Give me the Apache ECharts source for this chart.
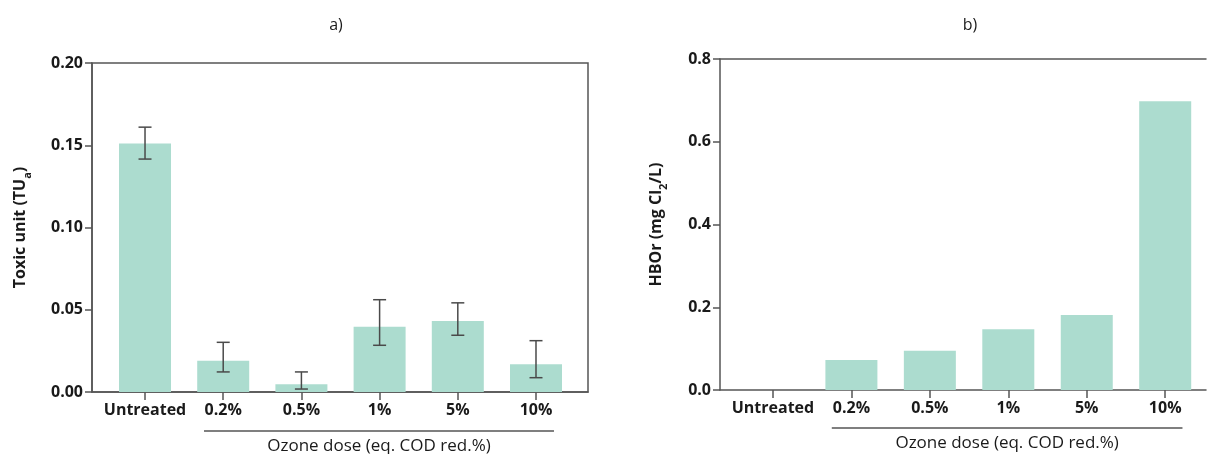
<!DOCTYPE html>
<html>
<head>
<meta charset="utf-8">
<script src="https://cdn.jsdelivr.net/npm/echarts@6/dist/echarts.min.js"></script>
<style>
  html, body { margin: 0; padding: 0; background: #fff; }
  #chart { width: 1208px; height: 454px; }
</style>
</head>
<body>
<div id="chart"></div>
<script>
// data
var doses = ['Untreated', '0.2%', '0.5%', '1%', '5%', '10%'];
var toxicUnit = [0.151, 0.019, 0.0047, 0.0397, 0.0432, 0.0168];
var toxicLow  = [0.1416, 0.0122, 0.0018, 0.0284, 0.0345, 0.0087];
var toxicHigh = [0.161, 0.0302, 0.0122, 0.0561, 0.0542, 0.0312];
var hbor = [0, 0.0725, 0.095, 0.147, 0.181, 0.698];
var idx = [0, 1, 2, 3, 4, 5];

var barColor = '#acdccf';
var axisColor = '#555';
var txt = '#1a1a1a';
var font = 'Open Sans';

function pairs(vals) {
    return vals.map(function (v, i) { return [i, v]; });
}

function xAxisCfg(grid, min, max) {
    return {
        type: 'value', gridIndex: grid, min: min, max: max,
        splitLine: { show: false },
        axisLine: { lineStyle: { color: axisColor, width: 1.5 } },
        axisTick: { show: true, customValues: idx, length: 8, lineStyle: { color: axisColor, width: 1.5 } },
        axisLabel: {
            customValues: idx, margin: 10,
            color: txt, fontFamily: font, fontWeight: 'bold', fontSize: 16,
            formatter: function (v) { return doses[Math.round(v)]; }
        }
    };
}

function yAxisCfg(grid, max, step, digits, name, gap) {
    return {
        type: 'value', gridIndex: grid, min: 0, max: max, interval: step,
        name: name, nameLocation: 'middle', nameGap: gap, nameRotate: 90,
        nameTextStyle: {
            rich: {
                n: { fontFamily: font, fontWeight: 'bold', fontSize: 16, color: txt, lineHeight: 19 },
                s: { fontFamily: font, fontWeight: 'bold', fontSize: 11, color: txt, lineHeight: 11, verticalAlign: 'bottom', padding: [0, 0, -3, 0] }
            }
        },
        splitLine: { show: false },
        axisLine: { show: true, onZero: false, lineStyle: { color: axisColor, width: 1.5 } },
        axisTick: { show: true, length: 7, lineStyle: { color: axisColor, width: 1.5 } },
        axisLabel: {
            margin: 9, color: txt, fontFamily: font, fontWeight: 'bold', fontSize: 16,
            formatter: function (v) { return v.toFixed(digits); }
        }
    };
}

var chart = echarts.init(document.getElementById('chart'));
chart.setOption({
    animation: false,
    title: [
        { text: 'a)', left: 331, top: 12, textAlign: 'center', textStyle: { fontFamily: font, fontWeight: 'normal', fontSize: 16, color: txt } },
        { text: 'b)', left: 965, top: 12, textAlign: 'center', textStyle: { fontFamily: font, fontWeight: 'normal', fontSize: 16, color: txt } }
    ],
    grid: [
        { left: 92, top: 63, width: 496, height: 329, show: true, borderColor: axisColor, borderWidth: 1.5 },
        { left: 720, top: 59, width: 486, height: 331 }
    ],
    xAxis: [
        xAxisCfg(0, -0.678, 5.665),
        xAxisCfg(1, -0.675, 5.52),
        // top edge of panel b (no right edge visible in the figure)
        { type: 'value', gridIndex: 1, position: 'top', min: 0, max: 1,
          axisLine: { onZero: false, lineStyle: { color: axisColor, width: 1.5 } },
          axisTick: { show: false }, axisLabel: { show: false }, splitLine: { show: false } }
    ],
    yAxis: [
        yAxisCfg(0, 0.2, 0.05, 2, '{n|Toxic unit (TU}{s|a}{n|)}', 62),
        yAxisCfg(1, 0.8, 0.2, 1, '{n|HBOr (mg Cl}{s|2}{n|/L)}', 54)
    ],
    series: [
        {
            type: 'bar', xAxisIndex: 0, yAxisIndex: 0, barWidth: 52,
            itemStyle: { color: barColor },
            data: pairs(toxicUnit)
        },
        {
            type: 'custom', xAxisIndex: 0, yAxisIndex: 0, z: 10,
            data: toxicLow.map(function (lo, i) { return [i, lo, toxicHigh[i]]; }),
            renderItem: function (params, api) {
                var x = api.value(0);
                var lo = api.coord([x, api.value(1)]);
                var hi = api.coord([x, api.value(2)]);
                var w = 6.5;
                var st = { stroke: '#4a4a4a', lineWidth: 1.5 };
                return {
                    type: 'group',
                    children: [
                        { type: 'line', shape: { x1: lo[0], y1: lo[1], x2: hi[0], y2: hi[1] }, style: st },
                        { type: 'line', shape: { x1: lo[0] - w, y1: lo[1], x2: lo[0] + w, y2: lo[1] }, style: st },
                        { type: 'line', shape: { x1: hi[0] - w, y1: hi[1], x2: hi[0] + w, y2: hi[1] }, style: st }
                    ]
                };
            }
        },
        {
            type: 'bar', xAxisIndex: 1, yAxisIndex: 1, barWidth: 52,
            itemStyle: { color: barColor },
            data: pairs(hbor)
        }
    ]
});

// "Ozone dose" group brackets under the dose labels
function bracket(axis, from, to, y, textY) {
    var x1 = chart.convertToPixel({ xAxisIndex: axis }, from);
    var x2 = chart.convertToPixel({ xAxisIndex: axis }, to);
    return [
        { type: 'line', shape: { x1: x1, y1: y, x2: x2, y2: y }, style: { stroke: axisColor, lineWidth: 1.5 } },
        { type: 'text', x: (x1 + x2) / 2, y: textY, style: { text: 'Ozone dose (eq. COD red.%)', fill: txt, font: '17px "Open Sans"', align: 'center', verticalAlign: 'middle' } }
    ];
}
chart.setOption({
    graphic: bracket(0, 0.754, 5.23, 431, 446).concat(bracket(1, 0.75, 5.22, 428, 443))
});
</script>
</body>
</html>
